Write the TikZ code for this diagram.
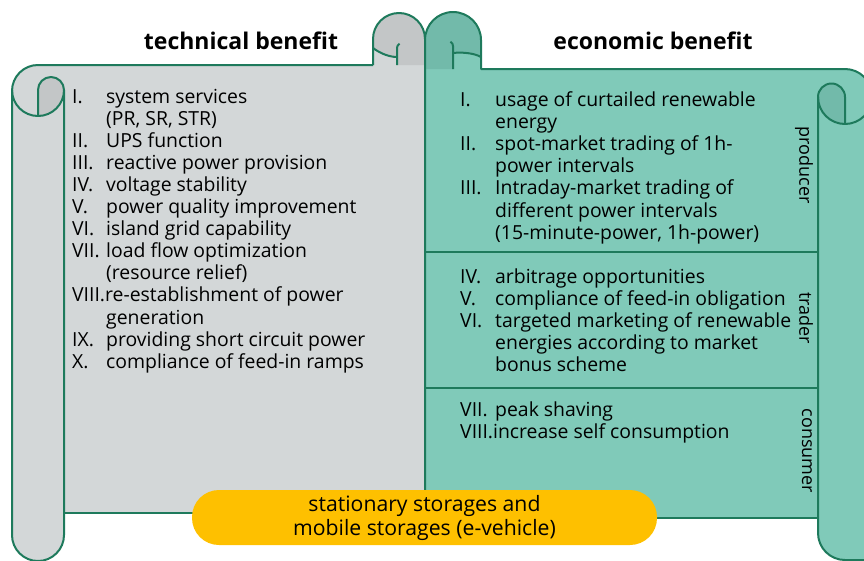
\documentclass[tikz,border=0pt]{standalone}
\usepackage{fontspec}
\setmainfont{Open Sans}
\definecolor{scrollline}{RGB}{30,122,92}
\definecolor{techgray}{RGB}{211,215,216}
\definecolor{techcurl}{RGB}{195,198,199}
\definecolor{ecoteal}{RGB}{128,202,185}
\definecolor{ecocurl}{RGB}{114,186,170}
\definecolor{storeyellow}{RGB}{254,192,0}
\tikzset{
  edge/.style={draw=scrollline,line width=2pt,line join=round},
  listtext/.style={anchor=base west,inner sep=0pt,font=\fontsize{19.4}{22.1}\selectfont},
  headline/.style={anchor=base,inner sep=0pt,font=\fontsize{23}{27}\selectfont\bfseries},
  role/.style={rotate=-90,inner sep=0pt,font=\fontsize{18}{20}\selectfont},
  pill/.style={rectangle,rounded corners=27pt,fill=storeyellow,minimum width=465pt,
    minimum height=55pt,align=center,font=\fontsize{21.2}{24}\selectfont}
}
\begin{document}
\begin{tikzpicture}[x=1pt,y=-1pt]
	\clip (0,0) rectangle (864,560);
	% technical scroll
	\fill[techgray] (12,90) arc[start angle=180,end angle=270,radius=26] -- (373,65)
		-- (373,39) arc[start angle=180,end angle=360,radius=26] -- (430,39) -- (430,513)
		-- (64,513) -- (64,535) arc[start angle=0,end angle=180,radius=26] -- cycle;
	\fill[techcurl] (373,39) arc[start angle=180,end angle=360,radius=26] -- (425,65) -- (397,65)
		-- (397,57) .. controls (390,57) and (381,54) .. (373,48) -- cycle;
	\fill[techcurl] (38,90) arc[start angle=180,end angle=360,radius=13]
		arc[start angle=0,end angle=90,radius=26] -- cycle;
	\draw[edge] (373,65) -- (38,65) arc[start angle=270,end angle=180,radius=26] -- (12,535)
		arc[start angle=180,end angle=0,radius=26] -- (64,90)
		arc[start angle=360,end angle=180,radius=13] -- (38,116);
	\draw[edge] (64,90) arc[start angle=0,end angle=180,radius=26];
	\draw[edge] (64,513) -- (220,513);
	\draw[edge] (373,65) -- (373,39) arc[start angle=180,end angle=360,radius=26] -- (425,65);
	\draw[edge] (397,65) -- (397,48) arc[start angle=180,end angle=240,radius=5];
	\draw[edge] (373,48) .. controls (381,54) and (390,57) .. (397,57);
	% economic scroll
	\fill[ecoteal] (425,40) arc[start angle=180,end angle=360,radius=28] -- (481,69) -- (845,69)
		arc[start angle=270,end angle=360,radius=27] -- (872,560) -- (845,560)
		arc[start angle=90,end angle=180,radius=27] -- (818,518) -- (425,518) -- cycle;
	\fill[ecocurl] (425,40) arc[start angle=180,end angle=360,radius=28] -- (481,57)
		.. controls (474,53) and (462,52) .. (453,53) -- (453,69) -- (425,69) -- cycle;
	\fill[ecocurl] (818,97) arc[start angle=180,end angle=360,radius=13.5]
		-- (845,124) arc[start angle=90,end angle=180,radius=27] -- cycle;
	\draw[edge] (425,518) -- (425,40) arc[start angle=180,end angle=360,radius=28] -- (481,69)
		-- (845,69) arc[start angle=270,end angle=360,radius=27];
	\draw[edge] (453,69) -- (453,46) arc[start angle=0,end angle=-60,radius=5];
	\draw[edge] (453,53) .. controls (462,52) and (474,53) .. (481,57);
	\draw[edge] (818,97) arc[start angle=180,end angle=360,radius=13.5] -- (845,124);
	\draw[edge] (818,97) arc[start angle=180,end angle=0,radius=27];
	\draw[edge] (818,97) -- (818,533) arc[start angle=180,end angle=90,radius=27] -- (872,560);
	\draw[edge] (425,518) -- (818,518);
	\draw[edge] (425,252) -- (818,252);
	\draw[edge] (425,388) -- (818,388);
	% headlines
	\node[headline] (techtitle) at (241,49) {technical benefit};
	\node[headline] (ecotitle) at (653,49) {economic benefit};
	% technical list
	\node[listtext] (techlist) at (72,103) {\begin{tabular}[t]{@{}p{34pt}@{}l@{}}
		I. & system services\\
		   & (PR, SR, STR)\\
		II. & UPS function\\
		III. & reactive power provision\\
		IV. & voltage stability\\
		V. & power quality improvement\\
		VI. & island grid capability\\
		VII. & load flow optimization\\
		   & (resource relief)\\
		\multicolumn{2}{@{}l@{}}{VIII.re-establishment of power}\\
		   & generation\\
		IX. & providing short circuit power\\
		X. & compliance of feed-in ramps
		\end{tabular}};
	% economic lists
	\node[listtext] (producerlist) at (460,106.5) {\begin{tabular}[t]{@{}p{35pt}@{}l@{}}
		I. & usage of curtailed renewable\\
		   & energy\\
		II. & spot-market trading of 1h-\\
		    & power intervals\\
		III. & Intraday-market trading of\\
		     & different power intervals\\
		     & (15-minute-power, 1h-power)
		\end{tabular}};
	\node[listtext] (traderlist) at (460,283) {\begin{tabular}[t]{@{}p{35pt}@{}l@{}}
		IV. & arbitrage opportunities\\
		V. & compliance of feed-in obligation\\
		VI. & targeted marketing of renewable\\
		    & energies according to market\\
		    & bonus scheme
		\end{tabular}};
	\node[listtext] (consumerlist) at (460,416.5) {\begin{tabular}[t]{@{}p{35pt}@{}l@{}}
		VII. & peak shaving\\
		\multicolumn{2}{@{}l@{}}{VIII.increase self consumption}
		\end{tabular}};
	% roles
	\node[role] (producer) at (804,165) {producer};
	\node[role] (trader) at (806,318) {trader};
	\node[role] (consumer) at (807,451) {consumer};
	% storages
	\node[pill] (storage) at (424.5,517.5) {stationary storages and\\mobile storages (e-vehicle)};
\end{tikzpicture}
\end{document}
